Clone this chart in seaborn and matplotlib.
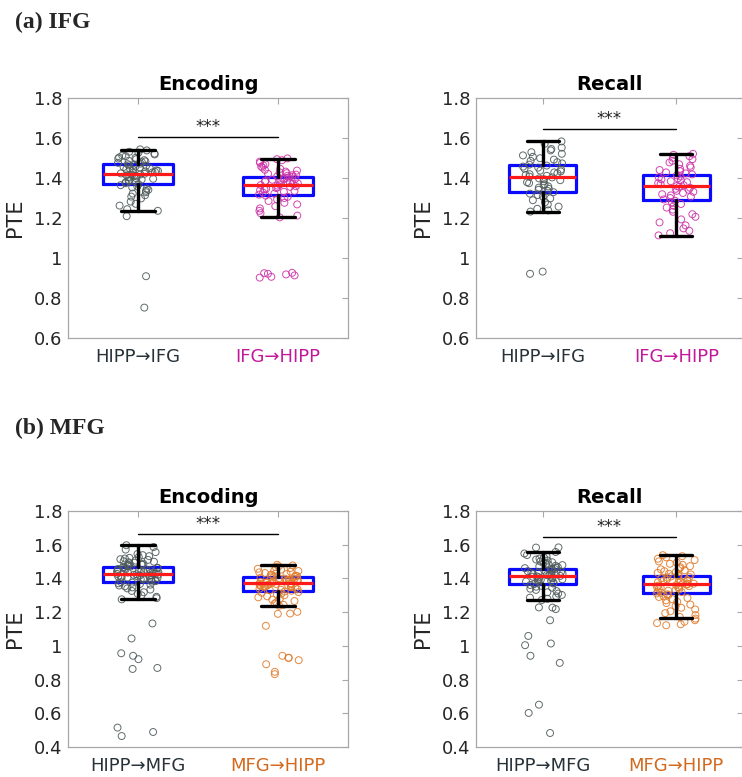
import numpy as np
import pandas as pd
import matplotlib
matplotlib.use("Agg")
import matplotlib.pyplot as plt
import seaborn as sns

sns.set_style("white")
plt.rcParams["font.family"] = ["DejaVu Sans"]

# ---------------- data ----------------
panel_titles = ["Encoding", "Recall", "Encoding", "Recall"]
row_labels = ["(a) IFG", "(b) MFG"]
cat_ifg = ["HIPP\u2192IFG", "IFG\u2192HIPP"]
cat_mfg = ["HIPP\u2192MFG", "MFG\u2192HIPP"]

enc_ifg_a = [1.543, 1.538, 1.531, 1.527, 1.522, 1.518, 1.512, 1.509, 1.503, 1.501, 1.497, 1.494,
             1.489, 1.486, 1.483, 1.479, 1.476, 1.472, 1.469, 1.466, 1.463, 1.461, 1.458, 1.455,
             1.452, 1.449, 1.447, 1.444, 1.441, 1.438, 1.436, 1.433, 1.431, 1.428, 1.426, 1.423,
             1.421, 1.418, 1.416, 1.413, 1.411, 1.408, 1.405, 1.402, 1.399, 1.396, 1.392, 1.389,
             1.385, 1.382, 1.378, 1.374, 1.369, 1.364, 1.358, 1.353, 1.347, 1.341, 1.336, 1.329,
             1.322, 1.314, 1.307, 1.298, 1.282, 1.271, 1.262, 1.244, 1.236, 1.209, 0.909, 0.752]
enc_ifg_b = [1.498, 1.494, 1.489, 1.482, 1.476, 1.469, 1.463, 1.457, 1.452, 1.446, 1.441, 1.437,
             1.432, 1.428, 1.424, 1.421, 1.417, 1.414, 1.411, 1.408, 1.405, 1.402, 1.399, 1.396,
             1.393, 1.391, 1.388, 1.385, 1.382, 1.379, 1.376, 1.373, 1.371, 1.368, 1.365, 1.362,
             1.359, 1.356, 1.353, 1.350, 1.347, 1.343, 1.339, 1.335, 1.331, 1.327, 1.322, 1.317,
             1.312, 1.306, 1.300, 1.293, 1.285, 1.276, 1.268, 1.259, 1.248, 1.236, 1.224, 1.212,
             1.203, 0.926, 0.924, 0.921, 0.918, 0.913, 0.906, 0.902]
rec_ifg_a = [1.583, 1.571, 1.552, 1.545, 1.538, 1.529, 1.521, 1.513, 1.506, 1.499, 1.492, 1.486,
             1.479, 1.473, 1.467, 1.462, 1.457, 1.452, 1.447, 1.442, 1.437, 1.433, 1.428, 1.424,
             1.419, 1.415, 1.411, 1.407, 1.403, 1.398, 1.394, 1.389, 1.384, 1.379, 1.374, 1.369,
             1.364, 1.358, 1.352, 1.346, 1.341, 1.335, 1.329, 1.322, 1.315, 1.307, 1.298, 1.289,
             1.279, 1.268, 1.257, 1.246, 1.238, 1.232, 0.932, 0.921]
rec_ifg_b = [1.521, 1.516, 1.509, 1.501, 1.494, 1.486, 1.478, 1.469, 1.461, 1.453, 1.446, 1.440,
             1.434, 1.428, 1.423, 1.418, 1.413, 1.408, 1.403, 1.398, 1.393, 1.389, 1.384, 1.379,
             1.374, 1.369, 1.364, 1.360, 1.356, 1.351, 1.346, 1.341, 1.336, 1.331, 1.325, 1.319,
             1.313, 1.307, 1.300, 1.293, 1.286, 1.278, 1.270, 1.261, 1.252, 1.242, 1.231, 1.219,
             1.206, 1.193, 1.178, 1.163, 1.148, 1.136, 1.124, 1.113]
enc_mfg_a = [1.597, 1.586, 1.571, 1.556, 1.545, 1.538, 1.532, 1.527, 1.522, 1.518, 1.514, 1.510,
             1.506, 1.502, 1.499, 1.496, 1.493, 1.490, 1.487, 1.484, 1.481, 1.478, 1.476, 1.473,
             1.471, 1.468, 1.466, 1.463, 1.461, 1.459, 1.456, 1.454, 1.452, 1.450, 1.447, 1.445,
             1.443, 1.441, 1.439, 1.437, 1.435, 1.433, 1.431, 1.429, 1.427, 1.425, 1.423, 1.421,
             1.419, 1.417, 1.415, 1.413, 1.411, 1.409, 1.407, 1.405, 1.403, 1.400, 1.398, 1.395,
             1.393, 1.390, 1.387, 1.384, 1.381, 1.378, 1.375, 1.371, 1.367, 1.363, 1.358, 1.353,
             1.347, 1.341, 1.334, 1.326, 1.318, 1.309, 1.300, 1.291, 1.283, 1.276, 1.133, 1.044,
             0.956, 0.941, 0.921, 0.869, 0.863, 0.515, 0.489, 0.465]
enc_mfg_b = [1.481, 1.477, 1.472, 1.467, 1.462, 1.457, 1.452, 1.448, 1.444, 1.440, 1.436, 1.432,
             1.429, 1.426, 1.423, 1.420, 1.417, 1.414, 1.411, 1.409, 1.406, 1.404, 1.401, 1.399,
             1.397, 1.395, 1.393, 1.391, 1.389, 1.387, 1.385, 1.383, 1.381, 1.379, 1.377, 1.375,
             1.373, 1.371, 1.369, 1.367, 1.365, 1.363, 1.361, 1.359, 1.357, 1.355, 1.353, 1.351,
             1.349, 1.347, 1.345, 1.342, 1.339, 1.336, 1.333, 1.330, 1.327, 1.323, 1.319, 1.315,
             1.310, 1.305, 1.300, 1.294, 1.288, 1.281, 1.274, 1.266, 1.258, 1.250, 1.243, 1.238,
             1.202, 1.192, 1.190, 1.119, 0.941, 0.929, 0.929, 0.915, 0.891, 0.846, 0.832]
rec_mfg_a = [1.584, 1.583, 1.557, 1.548, 1.539, 1.531, 1.524, 1.518, 1.512, 1.506, 1.501, 1.496,
             1.491, 1.487, 1.483, 1.479, 1.475, 1.471, 1.467, 1.464, 1.461, 1.458, 1.455, 1.452,
             1.449, 1.446, 1.443, 1.440, 1.437, 1.434, 1.431, 1.428, 1.426, 1.423, 1.420, 1.418,
             1.415, 1.412, 1.410, 1.407, 1.404, 1.401, 1.398, 1.395, 1.392, 1.389, 1.386, 1.382,
             1.378, 1.374, 1.370, 1.366, 1.361, 1.356, 1.351, 1.345, 1.339, 1.332, 1.325, 1.318,
             1.310, 1.302, 1.294, 1.286, 1.279, 1.272, 1.228, 1.227, 1.218, 1.152, 1.059, 1.014,
             1.004, 0.941, 0.899, 0.651, 0.602, 0.483]
rec_mfg_b = [1.538, 1.532, 1.525, 1.517, 1.509, 1.501, 1.494, 1.487, 1.480, 1.473, 1.466, 1.460,
             1.454, 1.448, 1.443, 1.438, 1.433, 1.428, 1.424, 1.420, 1.416, 1.412, 1.408, 1.404,
             1.401, 1.397, 1.394, 1.391, 1.387, 1.384, 1.381, 1.378, 1.375, 1.372, 1.369, 1.366,
             1.363, 1.360, 1.357, 1.354, 1.351, 1.348, 1.345, 1.342, 1.338, 1.335, 1.331, 1.327,
             1.323, 1.319, 1.315, 1.311, 1.306, 1.301, 1.296, 1.290, 1.284, 1.277, 1.270, 1.262,
             1.254, 1.245, 1.236, 1.226, 1.216, 1.205, 1.194, 1.183, 1.172, 1.162, 1.152, 1.143,
             1.135, 1.128, 1.122]

# box statistics per panel: [group A, group B], each (q1, median, q3, whisker low, whisker high)
box_enc_ifg = [(1.372, 1.422, 1.469, 1.237, 1.541), (1.314, 1.366, 1.407, 1.205, 1.496)]
box_rec_ifg = [(1.332, 1.407, 1.466, 1.232, 1.583), (1.290, 1.360, 1.416, 1.110, 1.521)]
box_enc_mfg = [(1.376, 1.424, 1.469, 1.279, 1.598), (1.325, 1.370, 1.410, 1.238, 1.481)]
box_rec_mfg = [(1.364, 1.414, 1.453, 1.271, 1.558), (1.311, 1.364, 1.414, 1.168, 1.537)]

sig_y = [1.603, 1.645, 1.661, 1.644]
ytick_top = [0.6, 0.8, 1.0, 1.2, 1.4, 1.6, 1.8]
ytick_top_lbl = ["0.6", "0.8", "1", "1.2", "1.4", "1.6", "1.8"]
ytick_bot = [0.4, 0.6, 0.8, 1.0, 1.2, 1.4, 1.6, 1.8]
ytick_bot_lbl = ["0.4", "0.6", "0.8", "1", "1.2", "1.4", "1.6", "1.8"]

# ---------------- styling ----------------
W, H = 742, 777
dark_lbl = "#263238"
pt_gray = "#4f5b5b"
pt_mag = "#cc33a8"
lbl_mag = "#c4189a"
pt_org = "#e07b2c"
lbl_org = "#d2691e"
spine_col = "#a8a8a8"

def rect(l, t, r, b):
    return [l / W, 1 - b / H, (r - l) / W, (b - t) / H]

panels = [
    dict(rect=rect(68, 98, 348, 338), a=enc_ifg_a, b=enc_ifg_b, box=box_enc_ifg, cats=cat_ifg,
         cols=[pt_gray, pt_mag], lcols=[dark_lbl, lbl_mag], yt=ytick_top, ytl=ytick_top_lbl,
         ylim=(0.6, 1.8)),
    dict(rect=rect(476, 98, 743, 338), a=rec_ifg_a, b=rec_ifg_b, box=box_rec_ifg, cats=cat_ifg,
         cols=[pt_gray, pt_mag], lcols=[dark_lbl, lbl_mag], yt=ytick_top, ytl=ytick_top_lbl,
         ylim=(0.6, 1.8)),
    dict(rect=rect(68, 511, 348, 747), a=enc_mfg_a, b=enc_mfg_b, box=box_enc_mfg, cats=cat_mfg,
         cols=[pt_gray, pt_org], lcols=[dark_lbl, lbl_org], yt=ytick_bot, ytl=ytick_bot_lbl,
         ylim=(0.4, 1.8)),
    dict(rect=rect(476, 511, 743, 747), a=rec_mfg_a, b=rec_mfg_b, box=box_rec_mfg, cats=cat_mfg,
         cols=[pt_gray, pt_org], lcols=[dark_lbl, lbl_org], yt=ytick_bot, ytl=ytick_bot_lbl,
         ylim=(0.4, 1.8)),
]

fig = plt.figure(figsize=(W / 100, H / 100), dpi=100)

for k, p in enumerate(panels):
    ax = fig.add_axes(p["rect"])
    df = pd.DataFrame({"grp": [p["cats"][0]] * len(p["a"]) + [p["cats"][1]] * len(p["b"]),
                       "pte": p["a"] + p["b"]})
    np.random.seed(3 + k)
    sns.stripplot(data=df, x="grp", y="pte", hue="grp", order=p["cats"], hue_order=p["cats"],
                  palette=p["cols"], jitter=0.15, size=5, linewidth=0.7, legend=False,
                  ax=ax, zorder=3)
    for coll in ax.collections:
        fc = coll.get_facecolors()
        coll.set_edgecolors(fc)
        coll.set_facecolors("none")
        coll.set_alpha(0.9)

    stats = []
    for (q1, med, q3, lo, hi) in p["box"]:
        stats.append(dict(q1=q1, med=med, q3=q3, whislo=lo, whishi=hi, fliers=[]))
    ax.bxp(stats, positions=[0, 1], widths=0.5, capwidths=0.24, showfliers=False,
           manage_ticks=False,
           boxprops=dict(color="#0a0aff", lw=2.3, zorder=2.5),
           medianprops=dict(color="#ff1a1a", lw=2.3, zorder=4),
           whiskerprops=dict(color="black", lw=2.4, ls="-", zorder=4),
           capprops=dict(color="black", lw=2.4, zorder=4))

    # significance bar
    ax.plot([0, 1], [sig_y[k], sig_y[k]], color="black", lw=1.0, zorder=5)
    ax.text(0.5, sig_y[k] + 0.006, "***", ha="center", va="bottom", fontsize=12,
            color="#222222")

    ax.set_xlim(-0.5, 1.5)
    ax.set_ylim(*p["ylim"])
    ax.set_yticks(p["yt"])
    ax.set_yticklabels(p["ytl"])
    ax.set_xticks([0, 1])
    ax.set_xticklabels(p["cats"])
    ax.set_xlabel("")
    ax.set_ylabel("PTE", fontsize=15, color="#262626", labelpad=6)
    ax.set_title(panel_titles[k], fontsize=14, fontweight="bold", pad=6, color="black")
    ax.tick_params(axis="both", direction="in", length=4, width=0.8, color=spine_col,
                   top=True, right=True, labelsize=13, labelcolor="#262626")
    for t, c in zip(ax.get_xticklabels(), p["lcols"]):
        t.set_color(c)
    ax.tick_params(axis="x", pad=7)
    ax.tick_params(axis="y", pad=4)
    for s in ax.spines.values():
        s.set_color(spine_col)
        s.set_linewidth(0.9)
        s.set_visible(True)

fig.text(15 / W, 1 - 28 / H, row_labels[0], family="Liberation Serif", fontweight="bold",
         fontsize=17, va="baseline", ha="left")
fig.text(15 / W, 1 - 434 / H, row_labels[1], family="Liberation Serif", fontweight="bold",
         fontsize=17, va="baseline", ha="left")

fig.savefig("out.png", dpi=100)
